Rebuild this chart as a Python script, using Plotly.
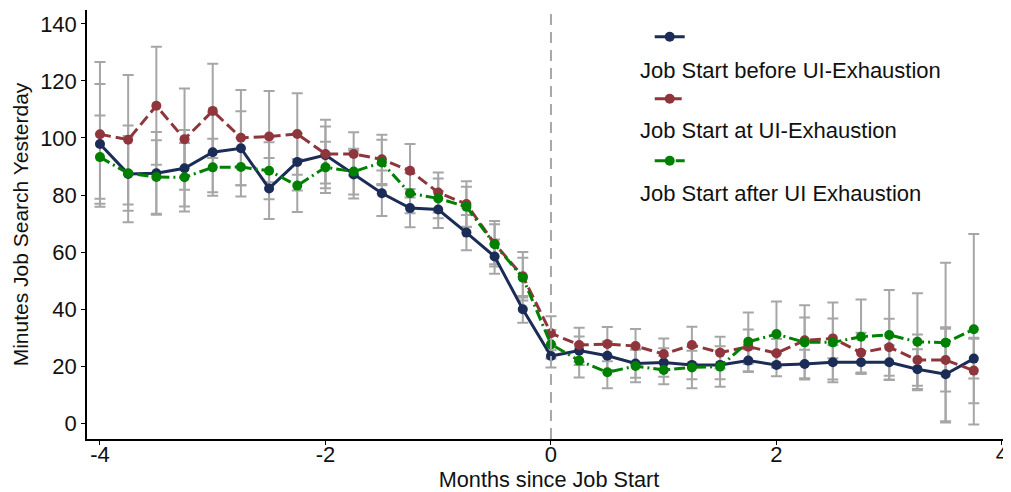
import plotly.graph_objects as go

# months relative to job start
months = [-4.0, -3.75, -3.5, -3.25, -3.0, -2.75, -2.5, -2.25, -2.0, -1.75, -1.5, -1.25,
          -1.0, -0.75, -0.5, -0.25, 0.0, 0.25, 0.5, 0.75, 1.0, 1.25, 1.5, 1.75,
          2.0, 2.25, 2.5, 2.75, 3.0, 3.25, 3.5, 3.75]

before = [97.9, 87.4, 87.6, 89.4, 95.0, 96.4, 82.3, 91.6, 94.0, 87.2, 80.6, 75.4,
          74.9, 66.8, 58.4, 39.9, 23.5, 25.4, 23.6, 20.9, 21.2, 20.4, 20.4, 21.9,
          20.4, 20.7, 21.3, 21.3, 21.3, 18.9, 17.1, 22.6]
before_ci = [21, 17, 14.5, 13.4, 14, 13, 10.7, 10, 10, 8.4, 8, 6.7,
             6.5, 6.2, 6, 4.7, 4, 5, 5, 5, 5, 5, 5, 4,
             4, 5, 6, 4, 6, 7, 16.5, 7]

at = [101.3, 99.4, 111.3, 99.6, 109.5, 100.1, 100.5, 101.4, 94.4, 94.4, 92.5, 88.5,
      80.9, 76.8, 62.9, 51.5, 31.5, 27.4, 27.7, 27.0, 24.2, 27.4, 24.7, 26.8,
      24.5, 29.0, 29.7, 24.7, 26.6, 22.1, 22.1, 18.4]
at_ci = [25.4, 22.7, 20.7, 17.8, 16.5, 16.7, 16, 14.3, 12, 7.6, 8.6, 9.4,
         7, 8, 8, 8.5, 6, 6, 6, 6, 5.5, 6.4, 5.6, 6,
         5, 8, 7, 7, 10, 9, 11, 11.5]

after = [93.3, 87.6, 86.3, 86.2, 89.7, 89.8, 88.5, 83.3, 89.7, 88.2, 91.4, 80.6,
         78.8, 75.9, 62.7, 51.0, 27.6, 21.9, 17.8, 20.0, 18.6, 19.5, 19.8, 28.5,
         31.2, 28.3, 28.3, 30.3, 30.9, 28.5, 28.2, 32.9]
after_ci = [14.6, 13.1, 12.9, 12, 10, 10.3, 10, 9.3, 9, 8, 8, 7,
            7, 7, 7, 7, 5, 5.9, 5.6, 5.7, 5, 7.3, 7.1, 10.3,
            11.4, 13, 14, 13, 15.8, 17, 28, 33.4]

labels = ["Job Start before UI-Exhaustion", "Job Start at UI-Exhaustion",
          "Job Start after UI Exhaustion"]

series = [
    (before, before_ci, "#1b2c57", "solid", "legend"),
    (at, at_ci, "#8f363d", "11px,5px", "legend2"),
    (after, after_ci, "#008000", "11px,4px,2px,4px", "legend3"),
]
FONT = "Liberation Sans, Arial, sans-serif"

fig = go.Figure()

# confidence intervals first so they sit below the lines
for vals, ci, color, dash, lg in series:
    fig.add_trace(go.Scatter(
        x=months, y=vals, mode="markers", marker=dict(size=1, opacity=0),
        error_y=dict(type="data", array=ci, color="#a6a6a6", thickness=2, width=5.5),
        showlegend=False, hoverinfo="skip"))

for (vals, ci, color, dash, lg), name in zip(series, labels):
    fig.add_trace(go.Scatter(
        x=months, y=vals, mode="lines+markers", name=" ",
        line=dict(color=color, width=3, dash=dash),
        marker=dict(color=color, size=10),
        legend=lg, hovertext=name))

fig.add_vline(x=0, line=dict(color="#a8a8a8", width=2, dash="11px,7px"))

leg = dict(x=0.609, xanchor="left", yanchor="middle", bgcolor="rgba(0,0,0,0)",
           font=dict(size=22, family=FONT))
for yt, name in zip([0.858, 0.718, 0.573], labels):
    fig.add_annotation(x=0.596, y=yt, xref="paper", yref="paper", text=name,
                       showarrow=False, xanchor="left", yanchor="middle",
                       font=dict(size=22, color="#111111", family=FONT))

# page body has an 8px margin, so the figure is 8px smaller than the window
fig.update_layout(
    width=1003, height=484,
    margin=dict(l=79, r=0, t=2, b=53),
    plot_bgcolor="white", paper_bgcolor="white",
    font=dict(family=FONT, size=22, color="#111111"),
    legend=dict(leg, y=0.937),
    legend2=dict(leg, y=0.7925),
    legend3=dict(leg, y=0.648),
    showlegend=True,
)
fig.update_xaxes(range=[-4.115, 4.08], tickvals=[-4, -2, 0, 2, 4],
                 ticktext=["-4", "-2", "0", "2", "4"],
                 showgrid=False, zeroline=False, showline=True, linecolor="black",
                 linewidth=1.5, ticks="outside", ticklen=4, tickcolor="black",
                 ticklabelstandoff=-9,
                 title=dict(text="Months since Job Start", standoff=2, font=dict(size=21.7)))
fig.update_yaxes(range=[-5.6, 144.9], tickvals=list(range(0, 141, 20)),
                 showgrid=False, zeroline=False, showline=True, linecolor="black",
                 linewidth=1.5, ticks="outside", ticklen=4, tickcolor="black",
                 title=dict(text="Minutes Job Search Yesterday", standoff=6, font=dict(size=21)))

fig.write_html("out.html")
